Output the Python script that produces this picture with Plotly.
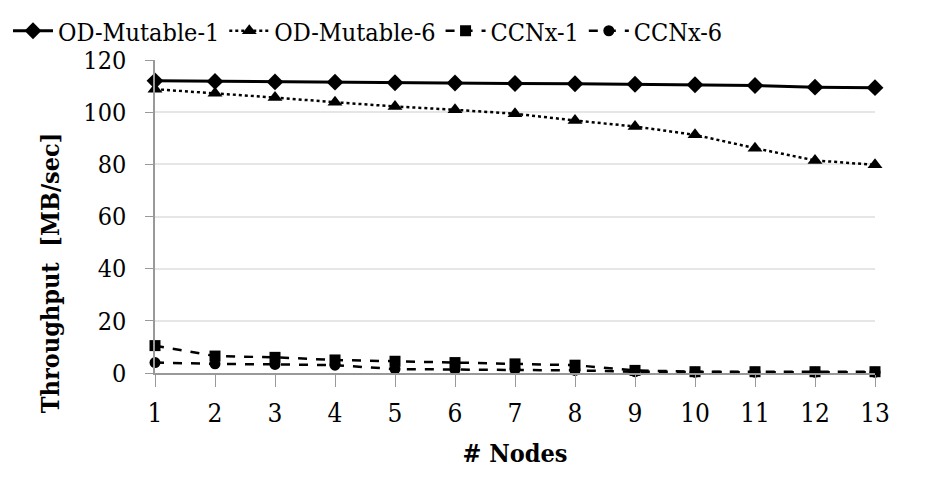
import plotly.graph_objects as go

nodes = list(range(1, 14))
od_mutable_1 = [112, 111.8, 111.6, 111.5, 111.3, 111.2, 111.0, 110.9, 110.7, 110.5, 110.2, 109.6, 109.4]
od_mutable_6 = [108.8, 107.3, 105.6, 103.8, 102.2, 100.9, 99.4, 96.8, 94.5, 91.3, 86.2, 81.5, 79.8]
ccnx_1 = [10.5, 6.5, 6.0, 5.0, 4.5, 4.0, 3.5, 3.0, 1.0, 0.5, 0.5, 0.5, 0.5]
ccnx_6 = [4.0, 3.5, 3.3, 3.0, 1.5, 1.3, 1.3, 1.0, 0.5, 0.3, 0.3, 0.3, 0.3]
y_ticks = [0, 20, 40, 60, 80, 100, 120]

FONT = "DejaVu Serif Condensed, DejaVu Serif, serif"

series = [
    ("OD-Mutable-1", od_mutable_1, "solid", "diamond", 3, 13),
    ("OD-Mutable-6", od_mutable_6, "dot", "triangle-up", 2.5, 13),
    ("CCNx-1", ccnx_1, "dash", "square", 2.5, 11),
    ("CCNx-6", ccnx_6, "dash", "circle", 2.5, 11),
]

fig = go.Figure()
for name, vals, dash, sym, w, ms in series:
    fig.add_trace(go.Scatter(
        x=nodes, y=vals, name=name, mode="lines+markers",
        line=dict(color="black", width=w, dash=dash),
        marker=dict(symbol=sym, size=ms, color="black"),
        cliponaxis=False,
    ))

fig.update_layout(
    width=917, height=479,
    margin=dict(l=147, r=50, t=52, b=114),
    paper_bgcolor="white", plot_bgcolor="white",
    font=dict(family=FONT, color="black", size=22),
    legend=dict(
        orientation="h", x=0.0, y=1.0, xanchor="left", yanchor="top",
        xref="container", yref="container",
        font=dict(family=FONT, size=25, color="black"),
        itemwidth=40, tracegroupgap=0,
        bgcolor="rgba(0,0,0,0)",
    ),
    showlegend=True,
    annotations=[dict(
        text="<b>Throughput  [MB/sec]</b>", textangle=-90,
        xref="paper", yref="paper", x=-0.144, y=0.32,
        xanchor="center", yanchor="middle", showarrow=False,
        font=dict(family=FONT, size=25, color="black"),
    )],
)

fig.update_xaxes(
    range=[1, 13], tickvals=nodes, ticktext=[str(n) for n in nodes],
    showgrid=False, showline=True, linecolor="#999999", linewidth=1.5,
    ticks="outside", ticklen=12, tickcolor="#999999",
    tickfont=dict(family=FONT, size=26), zeroline=False, automargin=False,
    ticklabelstandoff=4,
    title=dict(text="<b># Nodes</b>", font=dict(family=FONT, size=25), standoff=18),
)
fig.update_yaxes(
    range=[0, 120], tickvals=y_ticks,
    showgrid=True, gridcolor="#e6e6e6", gridwidth=1.5,
    showline=True, linecolor="#999999", linewidth=1.5,
    ticks="outside", ticklen=8, tickcolor="#999999",
    tickfont=dict(family=FONT, size=25), zeroline=False, automargin=False,
    ticklabelstandoff=14,
)

fig.write_html("out.html")
